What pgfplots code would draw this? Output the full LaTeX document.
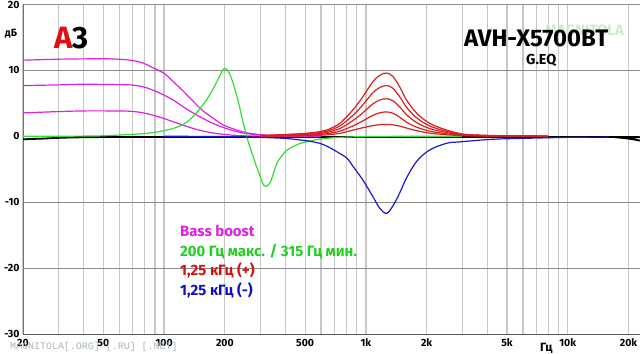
\documentclass[border=0pt]{standalone}
\usepackage{pgfplots}
\pgfplotsset{compat=1.18}
\usepackage{pgfplotstable}
\usepackage{fontspec}
\setmainfont{Fira Sans}
\newfontfamily\monofont{Liberation Mono}
\definecolor{cmag}{HTML}{E020E0}
\definecolor{cgreen}{HTML}{33DD33}
\definecolor{cred}{HTML}{D82020}
\definecolor{cblue}{HTML}{1A1AC8}
\definecolor{lgreen}{HTML}{20D020}
\definecolor{lred}{HTML}{D81010}
\definecolor{lblue}{HTML}{1010C0}

\pgfplotstableread{
f m1 m2 m3
20 11.55 7.7 3.55
30 11.7 7.8 3.75
40 11.75 7.9 3.85
54 11.75 7.85 3.85
68 11.55 7.8 3.8
79 11.1 7.5 3.55
88 10.4 7.0 3.2
100 9.55 6.25 2.7
111 8.3 5.5 2.2
124 6.9 4.5 1.7
139 5.35 3.55 1.2
156 3.85 2.7 0.8
175 2.75 1.95 0.5
196 1.75 1.35 0.3
229 0.95 0.7 0.12
266 0.45 0.35 0.05
334 0.12 0.08 0.01
420 0.03 0.02 0
600 0 0 0
}\bass

\pgfplotstableread{
f g
20 0
40 0.03
50 0.08
70 0.3
85 0.5
100 0.85
115 1.35
129 2.1
145 3.6
162 5.5
175 7.2
189 9.2
198 10.25
208 9.9
220 8.0
233 5.3
246 2.2
261 -0.8
275 -2.9
288 -4.7
300 -6.2
310 -7.3
319 -7.6
328 -7.4
340 -6.6
362 -4.1
385 -2.9
406 -2.1
440 -1.5
470 -1.1
570 -0.5
686 -0.22
832 -0.1
1010 -0.05
1500 0
3000 0
}\green

\pgfplotstableread{
f r1 r2 r3 r4 r5
300 0.12 0.1 0.07 0.05 0.03
400 0.28 0.22 0.17 0.11 0.06
500 0.45 0.36 0.27 0.18 0.1
590 0.7 0.56 0.42 0.28 0.16
640 0.95 0.76 0.57 0.38 0.22
742 1.96 1.57 1.17 0.78 0.45
860 3.97 3.15 2.36 1.56 0.92
964 5.97 4.75 3.55 2.32 1.3
1080 8.24 6.58 4.9 3.17 1.62
1170 9.25 7.4 5.5 3.56 1.76
1265 9.6 7.7 5.7 3.7 1.8
1358 9.1 7.3 5.4 3.5 1.74
1470 7.5 6.0 4.46 2.9 1.55
1590 5.5 4.4 3.27 2.14 1.25
1785 3.5 2.8 2.08 1.38 0.85
2070 1.96 1.57 1.17 0.78 0.48
2510 0.95 0.76 0.57 0.38 0.24
3015 0.35 0.28 0.21 0.15 0.1
3660 0.18 0.14 0.11 0.07 0.05
5000 0.07 0.06 0.04 0.03 0.02
8000 0.02 0.02 0.01 0.01 0
}\red

\pgfplotstableread{
f b
100 0
160 -0.02
250 -0.1
387 -0.3
500 -0.65
590 -1.06
650 -1.6
714 -2.3
804 -3.3
860 -4.5
964 -6.6
1080 -9.1
1170 -10.9
1265 -11.7
1358 -10.6
1470 -8.6
1590 -6.3
1785 -3.8
2070 -2.07
2510 -1.06
2910 -0.85
4245 -0.45
6250 -0.3
10560 -0.15
16000 -0.12
}\blue

\pgfplotstableread{
f k
20 -0.45
25 -0.35
31 -0.22
40 -0.15
60 -0.12
16000 -0.12
18000 -0.2
20000 -0.35
22800 -0.65
}\flat

\begin{document}
\begin{tikzpicture}
\useasboundingbox (0,0) rectangle (640bp,354bp);
\begin{axis}[
  at={(23bp,20bp)}, anchor=south west,
  scale only axis, width=617bp, height=329.5bp,
  xmode=log, log basis x=10,
  xmin=20, xmax=22800, ymin=-30, ymax=20,
  axis x line*=bottom, axis y line*=left,
  x axis line style={-, draw=black!65, line width=0.8bp},
  y axis line style={-, draw=black!55, line width=0.8bp},
  xtick={20,30,40,50,60,70,80,90,100,200,300,400,500,600,700,800,900,1000,2000,3000,4000,5000,6000,7000,8000,9000,10000,20000},
  xticklabels={20,,,50,,,,,100,200,,,500,,,,,1k,2k,,,5k,,,,,10k,20k},
  ytick={-30,-20,-10,0,10,20},
  yticklabels={-30,-20,-10,0,10,20},
  major tick length=0pt,
  tick label style={font=\bfseries\fontsize{10.5}{12}\selectfont, text=black},
  xticklabel style={yshift=-1.5bp},
  xmajorgrids, ymajorgrids,
  x grid style={draw=black!22, line width=1.3bp},
  y grid style={draw=black!45, line width=0.7bp},
  clip=true,
  every axis plot/.append style={smooth, tension=0.55, line width=1.2bp},
]
\addplot[black, line width=1.8bp] table[x=f,y=k]{\flat};
\addplot[cmag] table[x=f,y=m1]{\bass};
\addplot[cmag] table[x=f,y=m2]{\bass};
\addplot[cmag] table[x=f,y=m3]{\bass};
\addplot[cgreen] table[x=f,y=g]{\green};
\addplot[cblue] table[x=f,y=b]{\blue};
\addplot[cred] table[x=f,y=r1]{\red};
\addplot[cred] table[x=f,y=r2]{\red};
\addplot[cred] table[x=f,y=r3]{\red};
\addplot[cred] table[x=f,y=r4]{\red};
\addplot[cred] table[x=f,y=r5]{\red};
\end{axis}
% texts
\node[anchor=center, font=\bfseries\fontsize{10.5}{12}\selectfont] at (11bp,320bp) {дБ};
\node[anchor=base west, inner sep=0, text={rgb,255:red,225;green,15;blue,15}, font=\bfseries\fontsize{31}{31}\selectfont] at (54bp,305bp) {A};
\node[anchor=base west, inner sep=0, text=black, font=\bfseries\fontsize{31}{31}\selectfont] at (72bp,305bp) {3};
\node[anchor=base west, inner sep=0, text={rgb,255:red,205;green,235;blue,205}, font=\bfseries\fontsize{15}{15}\selectfont] at (545bp,318bp) {MAGNITOLA};
\node[anchor=base west, inner sep=0, font=\bfseries\fontsize{24}{24}\selectfont] at (464bp,307.3bp) {AVH-X5700BT};
\node[anchor=base west, inner sep=0, font=\bfseries\fontsize{14.5}{14.5}\selectfont] at (526bp,289bp) {G.EQ};
\node[anchor=base west, inner sep=0, text=cmag, font=\bfseries\fontsize{15}{15}\selectfont] at (180bp,117bp) {Bass boost};
\node[anchor=base west, inner sep=0, text=lgreen, font=\bfseries\fontsize{15}{15}\selectfont] at (180bp,97.5bp) {200 Гц макс. / 315 Гц мин.};
\node[anchor=base west, inner sep=0, text=lred, font=\bfseries\fontsize{15}{15}\selectfont] at (180bp,78bp) {1,25 кГц (+)};
\node[anchor=base west, inner sep=0, text=lblue, font=\bfseries\fontsize{15}{15}\selectfont] at (180bp,58.5bp) {1,25 кГц (-)};
\node[anchor=base west, inner sep=0, font=\bfseries\fontsize{12}{12}\selectfont] at (540bp,3bp) {Гц};
\node[anchor=base west, inner sep=0, text={rgb,255:red,170;green,182;blue,190}, font=\monofont\fontsize{10}{10}\selectfont] at (10bp,5bp) {MAGNITOLA[.ORG] [.RU] [.NET]};
\end{tikzpicture}
\end{document}
